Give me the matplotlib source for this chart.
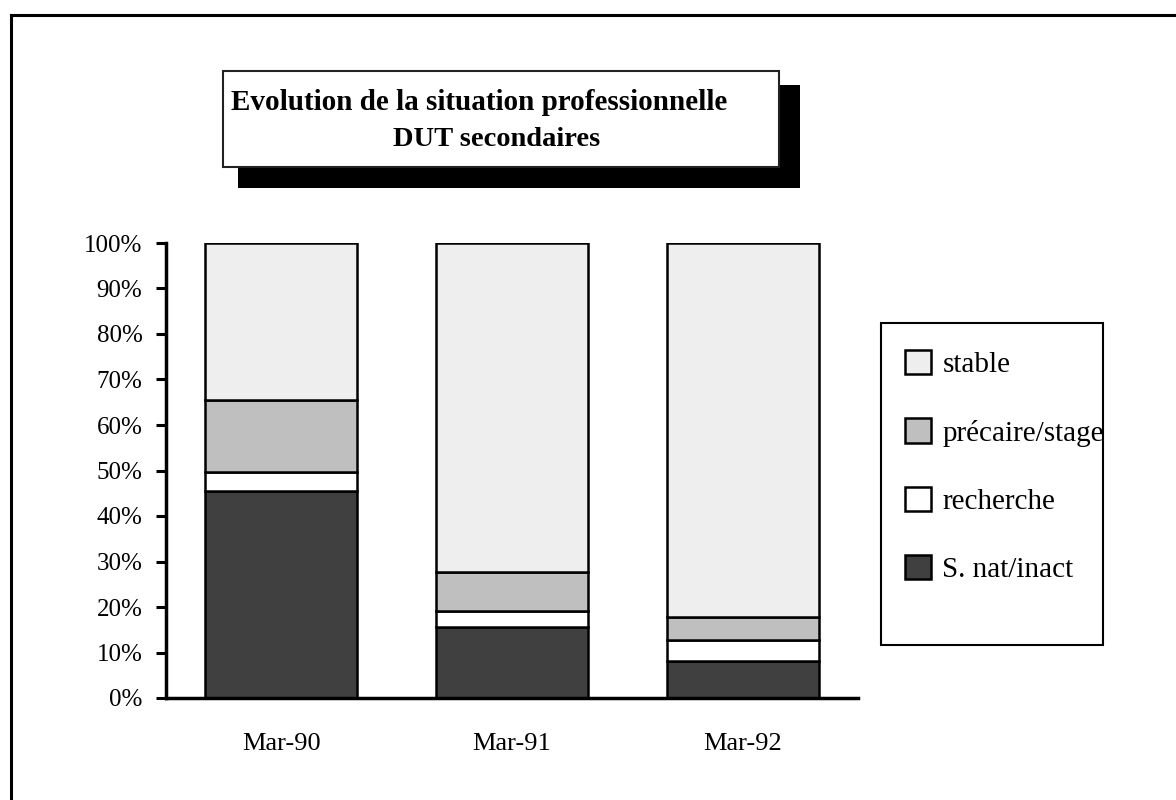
import matplotlib
matplotlib.use("Agg")
import matplotlib.pyplot as plt
from matplotlib.patches import Rectangle, Patch
from matplotlib.ticker import PercentFormatter

# values (percent of graduates)
categories = ["Mar-90", "Mar-91", "Mar-92"]
snat_inact = [45.5, 15.5, 8.1]
recherche = [4.1, 3.6, 4.6]
precaire = [15.9, 8.7, 5.2]
stable = [34.5, 72.2, 82.1]

series_names = ["S. nat/inact", "recherche", "précaire/stage", "stable"]
series_colors = ["#404040", "#ffffff", "#bfbfbf", "#eeeeee"]

plt.rcParams["font.family"] = ["Liberation Serif", "DejaVu Serif"]

W, H = 1176, 800
fig = plt.figure(figsize=(W / 100, H / 100), dpi=100)


def fx(px):
    return px / W


def fy(py):
    return 1 - py / H


# outer frame (only top and left edges fall inside the picture)
fig.add_artist(plt.Line2D([fx(11), fx(11)], [fy(15), 0], color="black", lw=2.2,
                          transform=fig.transFigure))
fig.add_artist(plt.Line2D([fx(11), 1], [fy(15), fy(15)], color="black", lw=2.2,
                          transform=fig.transFigure))

# title box with drop shadow
fig.add_artist(Rectangle((fx(238), fy(188)), fx(800) - fx(238), fy(85) - fy(188),
                         facecolor="black", edgecolor="none", transform=fig.transFigure))
fig.add_artist(Rectangle((fx(223), fy(167)), fx(779) - fx(223), fy(71) - fy(167),
                         facecolor="white", edgecolor="#222222", lw=1.5,
                         transform=fig.transFigure))
fig.text(fx(231), fy(103), "Evolution de la situation professionnelle",
         fontsize=21, fontweight="bold", va="center", ha="left")
fig.text(fx(497), fy(139), "DUT secondaires",
         fontsize=20.5, fontweight="bold", va="center", ha="center")

ax = fig.add_axes([fx(166), fy(698), fx(858) - fx(166), fy(243) - fy(698)])

x = range(len(categories))
bottom = [0, 0, 0]
for name, vals, col in zip(series_names, [snat_inact, recherche, precaire, stable],
                           series_colors):
    ax.bar(x, vals, width=0.66, bottom=bottom, color=col, edgecolor="black",
           linewidth=1.8, label=name, zorder=3)
    bottom = [b + v for b, v in zip(bottom, vals)]

ax.set_xlim(-0.5, 2.5)
ax.set_ylim(0, 100)
ax.set_yticks(range(0, 101, 10))
ax.yaxis.set_major_formatter(PercentFormatter(decimals=0))
ax.set_xticks(list(x))
ax.set_xticklabels(categories)
ax.tick_params(axis="y", direction="out", length=7, width=2.2, labelsize=18, pad=10)
ax.tick_params(axis="x", length=0, labelsize=19, pad=25)
for side in ["top", "right"]:
    ax.spines[side].set_visible(False)
for side in ["left", "bottom"]:
    ax.spines[side].set_linewidth(2.5)
ax.spines["left"].set_zorder(4)
ax.spines["bottom"].set_zorder(4)

# legend box drawn by hand, entries via legend
fig.add_artist(Rectangle((fx(881), fy(645)), fx(1103) - fx(881), fy(323) - fy(645),
                         facecolor="white", edgecolor="black", lw=1.5,
                         transform=fig.transFigure))
handles = [Patch(facecolor=c, edgecolor="black", linewidth=1.8)
           for c in series_colors][::-1]
fig.legend(handles, series_names[::-1], loc="upper left",
           bbox_to_anchor=(fx(905), fy(350)), frameon=False, fontsize=21,
           handlelength=0.9, handleheight=0.9, handletextpad=0.38,
           labelspacing=1.38, borderpad=0, borderaxespad=0)

fig.savefig("out.png", dpi=100, facecolor="white")
